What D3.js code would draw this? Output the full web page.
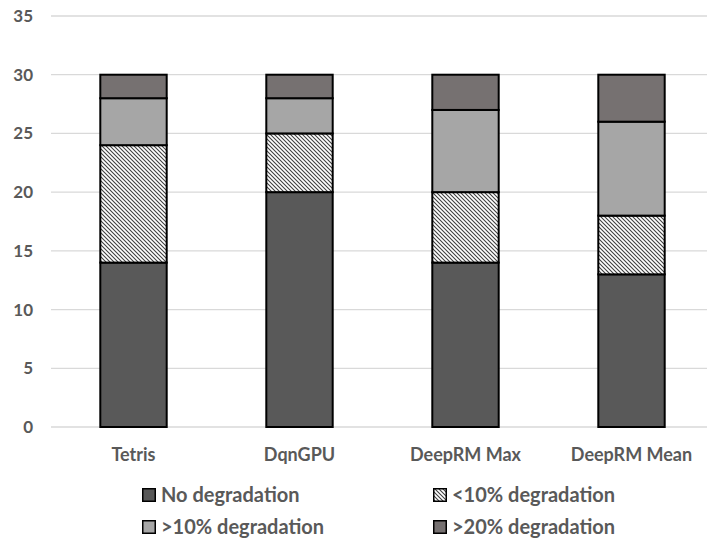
<!DOCTYPE html>
<html>
<head>
<meta charset="utf-8">
<script src="https://cdn.jsdelivr.net/npm/d3@7"></script>
<style>
  body { margin: 0; background: #fff; }
  text { font-family: Lato, "Open Sans", sans-serif; font-weight: 700; fill: #595959; }
</style>
</head>
<body>
<script>
const categories = ['Tetris', 'DqnGPU', 'DeepRM Max', 'DeepRM Mean']
const seriesNames = ['No degradation', '<10% degradation', '>10% degradation', '>20% degradation']
const noDeg = [14, 20, 14, 13]
const under10 = [10, 5, 6, 5]
const over10 = [4, 3, 7, 8]
const over20 = [2, 2, 3, 4]
const yTicks = [0, 5, 10, 15, 20, 25, 30, 35]

const W = 707, H = 540
const svg = d3.select('body').append('svg').attr('width', W).attr('height', H)

const defs = svg.append('defs')
const pat = defs.append('pattern').attr('id', 'hatch')
	.attr('patternUnits', 'userSpaceOnUse').attr('width', 4).attr('height', 4)
pat.append('rect').attr('width', 4).attr('height', 4).attr('fill', '#fff')
pat.append('path').attr('d', 'M-1,-1 L5,5 M-1,3 L1,5 M3,-1 L5,1')
	.attr('stroke', '#404040').attr('stroke-width', 1.1)

const fills = ['#595959', 'url(#hatch)', '#a6a6a6', '#767171']

const x = d3.scaleBand().domain(categories).range([50.5, 714.5]).paddingInner(0.6).paddingOuter(0.3)
const y = d3.scaleLinear().domain([0, 35]).range([427, 16])

// grid
svg.append('g').selectAll('line').data(yTicks).enter().append('line')
	.attr('x1', 51).attr('x2', 707)
	.attr('y1', d => y(d)).attr('y2', d => y(d))
	.attr('stroke', '#d9d9d9').attr('stroke-width', 1.3)

svg.append('g').selectAll('text').data(yTicks).enter().append('text')
	.attr('x', 33).attr('y', d => y(d) + 6)
	.attr('text-anchor', 'end').style('font-size', '17px')
	.text(d => d)

const table = categories.map((c, i) => ({ cat: c, v: [noDeg[i], under10[i], over10[i], over20[i]] }))
const stack = d3.stack().keys([0, 1, 2, 3]).value((d, k) => d.v[k])(table)

svg.append('g').selectAll('g').data(stack).enter().append('g')
	.attr('fill', (d, i) => fills[i])
	.selectAll('rect').data(d => d).enter().append('rect')
	.attr('x', d => x(d.data.cat))
	.attr('width', x.bandwidth())
	.attr('y', d => y(d[1]))
	.attr('height', d => y(d[0]) - y(d[1]))
	.attr('stroke', '#000').attr('stroke-width', 2)

svg.append('g').selectAll('text').data(categories).enter().append('text')
	.attr('x', d => x(d) + x.bandwidth() / 2).attr('y', 461)
	.attr('text-anchor', 'middle').style('font-size', '18px')
	.text(d => d)

// legend
const legPos = [[142, 495], [433, 495], [142, 527], [433, 527]]
const leg = svg.append('g').selectAll('g').data(seriesNames).enter().append('g')
	.attr('transform', (d, i) => `translate(${legPos[i][0]},${legPos[i][1]})`)
leg.append('rect').attr('x', 0.75).attr('y', -6.25).attr('width', 12.5).attr('height', 12.5)
	.attr('fill', (d, i) => fills[i]).attr('stroke', '#000').attr('stroke-width', 1.5)
leg.append('text').attr('x', 19).attr('y', 7).style('font-size', '20px').text(d => d)
</script>
</body>
</html>
